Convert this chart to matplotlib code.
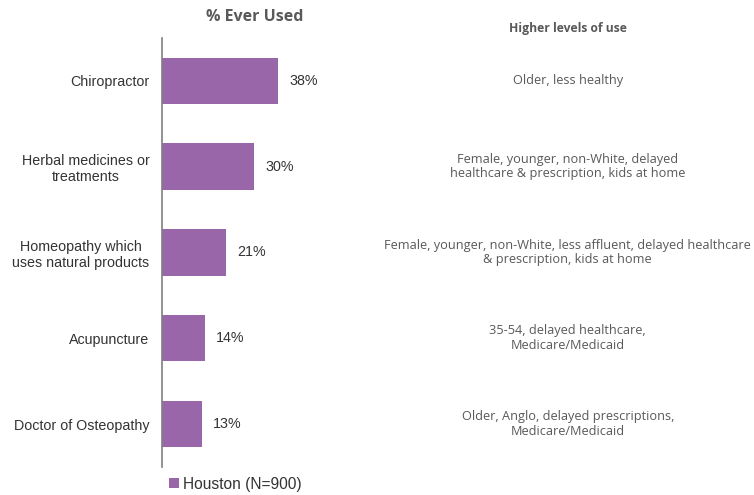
import matplotlib.pyplot as plt

# data
categories = [
    "Chiropractor",
    "Herbal medicines or\ntreatments",
    "Homeopathy which\nuses natural products",
    "Acupuncture",
    "Doctor of Osteopathy",
]
values = [38, 30, 21, 14, 13]
notes = [
    "Older, less healthy",
    "Female, younger, non-White, delayed\nhealthcare & prescription, kids at home",
    "Female, younger, non-White, less affluent, delayed healthcare\n& prescription, kids at home",
    "35-54, delayed healthcare,\nMedicare/Medicaid",
    "Older, Anglo, delayed prescriptions,\nMedicare/Medicaid",
]
series_name = "Houston (N=900)"

BAR_COLOR = "#9966AA"
GREY = "#595959"

fig = plt.figure(figsize=(7.54, 4.95), dpi=100)
ax = fig.add_axes([0.2149, 0.0566, 0.4045, 0.867])

ypos = list(range(len(categories)))
ax.barh(ypos, values, height=0.54, color=BAR_COLOR, label=series_name)
ax.set_ylim(len(categories) - 0.5, -0.5)
ax.set_xlim(0, 100)

for y, v in zip(ypos, values):
    ax.text(v + 3.8, y, f"{v}%", va="center", ha="left",
            fontsize=10.3, color="#333333", family="Liberation Sans")

ax.set_yticks(ypos)
ax.set_yticklabels(categories, fontsize=10.3, color="#333333",
                   family="Liberation Sans")
for lbl in ax.get_yticklabels():
    lbl.set_multialignment("center")
ax.tick_params(axis="y", length=0, pad=9)
ax.set_xticks([])
for side in ["top", "right", "bottom"]:
    ax.spines[side].set_visible(False)
ax.spines["left"].set_color("#7f7f7f")
ax.spines["left"].set_linewidth(1.2)

# right-hand notes
for y, note in zip(ypos, notes):
    disp = ax.transData.transform((0, y))
    fy = fig.transFigure.inverted().transform(disp)[1]
    fig.text(0.753, fy, note, ha="center", va="center", fontsize=9.2,
             color=GREY, family="Open Sans", linespacing=1.15)

fig.text(0.338, 0.965, "% Ever Used", ha="center", va="center",
         fontsize=11.5, fontweight="bold", color=GREY, family="Open Sans")
fig.text(0.753, 0.943, "Higher levels of use", ha="center", va="center",
         fontsize=8.7, fontweight="bold", color=GREY, family="Open Sans")

leg = fig.legend(loc="center left", bbox_to_anchor=(0.206, 0.022),
                 frameon=False, handlelength=0.6, handleheight=0.6,
                 handletextpad=0.3,
                 prop={"family": "Liberation Sans", "size": 11.2})
for t in leg.get_texts():
    t.set_color("#333333")

fig.savefig("out.png", dpi=100)
